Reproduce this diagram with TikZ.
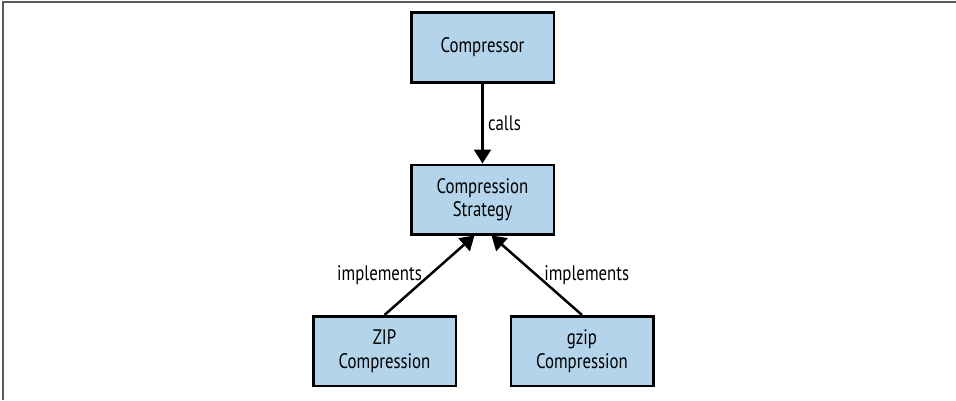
\documentclass[tikz,border=0pt]{standalone}
\usepackage{fontspec}
\setmainfont{PT Sans}[FakeStretch=0.8]
\usetikzlibrary{arrows.meta}

\definecolor{boxblue}{HTML}{B3D4EA}
\definecolor{framegray}{HTML}{5A5A5A}

\begin{document}
\begin{tikzpicture}[x=1pt, y=1pt,
    box/.style={rectangle, draw, line width=2.5pt, fill=boxblue, minimum width=142.5pt, minimum height=69.5pt, align=center, font=\fontsize{21}{23.5}\selectfont},
    arrow/.style={-{Triangle[length=14pt, width=17pt]}, line width=2.5pt},
    lbl/.style={font=\fontsize{21}{23.5}\selectfont}
]
\useasboundingbox (0,0) rectangle (956,400);
\draw[framegray, line width=2pt] (2.5,0) -- (2.5,397.5) -- (956,397.5);

\node[box] (compressor) at (482.5,352.5) {Compressor};
\node[box] (strategy) at (482.5,200.5) {Compression\\Strategy};
\node[box] (zip) at (384.5,49) {ZIP\\Compression};
\node[box] (gzip) at (582,49) {gzip\\Compression};

\draw[arrow] (compressor) -- node[lbl, right=1pt] {calls} (strategy);
\draw[arrow] (zip.north) -- node[lbl, left=3pt] {implements} ([xshift=-8pt]strategy.south);
\draw[arrow] (gzip.north) -- node[lbl, right=3pt] {implements} ([xshift=9pt]strategy.south);
\end{tikzpicture}
\end{document}
